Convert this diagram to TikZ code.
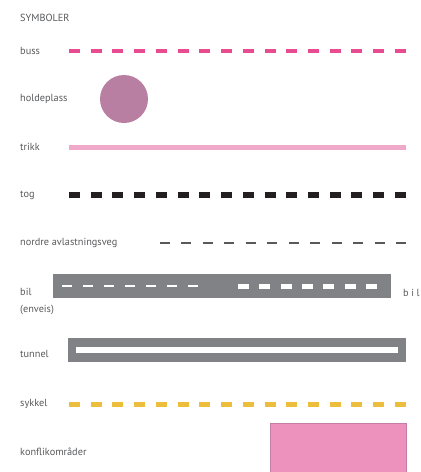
\documentclass[tikz,border=0pt]{standalone}
\usepackage{fontspec}
\setmainfont{PT Sans}
\usetikzlibrary{positioning}
\definecolor{txtgrey}{HTML}{58595B}
\definecolor{busspink}{HTML}{E84B90}
\definecolor{stopmauve}{HTML}{B97FA3}
\definecolor{trampink}{HTML}{F0A9C9}
\definecolor{trainblack}{HTML}{231F20}
\definecolor{roadgrey}{HTML}{808285}
\definecolor{bikeyellow}{HTML}{EDBE3C}
\definecolor{conflictpink}{HTML}{EC92BD}
\definecolor{conflictedge}{HTML}{C47DA4}

\begin{document}
\begin{tikzpicture}[
  x=1pt, y=-1pt,
  font=\fontsize{10.3}{12}\selectfont,
  lbl/.style={anchor=west, inner sep=0pt, text=txtgrey},
  bussline/.style={busspink, line width=4.5pt, dash pattern=on 11pt off 10.73pt},
  tramline/.style={trampink, line width=5pt},
  trainline/.style={trainblack, line width=6pt, dash pattern=on 11pt off 10.73pt},
  nordline/.style={txtgrey, line width=1.4pt, dash pattern=on 10pt off 11.45pt},
  carthin/.style={white, line width=1.4pt, dash pattern=on 9.5pt off 11.5pt},
  carthick/.style={white, line width=5pt, dash pattern=on 11pt off 10.3pt},
  bikeline/.style={bikeyellow, line width=5pt, dash pattern=on 11pt off 10.73pt},
]
\useasboundingbox (0,0) rectangle (421,472);

\node[lbl] (title) at (20,18) {SYMBOLER};

\node[lbl] (buss) at (20,51) {buss};
\coordinate (buss-a) at (69,51);
\coordinate (buss-b) at (406,51);
\draw[bussline] (buss-a) -- (buss-b);

\node[lbl] (holdeplass) at (20,99) {holdeplass};
\node[circle, fill=stopmauve, minimum size=48pt, inner sep=0pt] (stop) at (124,99) {};

\node[lbl] (trikk) at (20,147) {trikk};
\coordinate (trikk-a) at (69,147);
\coordinate (trikk-b) at (406,147);
\draw[tramline] (trikk-a) -- (trikk-b);

\node[lbl] (tog) at (20,195) {tog};
\coordinate (tog-a) at (69,195);
\coordinate (tog-b) at (406,195);
\draw[trainline] (tog-a) -- (tog-b);

\node[lbl] (nordre) at (20,243) {nordre avlastningsveg};
\coordinate (nordre-a) at (160,243);
\coordinate (nordre-b) at (406,243);
\draw[nordline] (nordre-a) -- (nordre-b);

\node[lbl] (bil) at (20,292) {bil};
\node[lbl] (enveis) at (20,310) {(enveis)};
\fill[roadgrey] (53,274) rectangle (390.5,297.5);
\coordinate (bil-a) at (62,286);
\coordinate (bil-b) at (197.5,286);
\coordinate (bil-c) at (238,286);
\coordinate (bil-d) at (377,286);
\draw[carthin] (bil-a) -- (bil-b);
\draw[carthick] (bil-c) -- (bil-d);
\node[lbl] (bilright) at (403,293) {b\hspace{2.6pt}i\hspace{2.6pt}l};

\node[lbl] (tunnel) at (20,354) {tunnel};
\fill[roadgrey] (68,337.5) rectangle (406,361.5);
\fill[white] (76,347) rectangle (398,352.7);

\node[lbl] (sykkel) at (20,404) {sykkel};
\coordinate (sykkel-a) at (69,404);
\coordinate (sykkel-b) at (406,404);
\draw[bikeline] (sykkel-a) -- (sykkel-b);

\node[lbl] (konflikt) at (20,452) {konflikområder};
\filldraw[fill=conflictpink, draw=conflictedge, line width=0.8pt] (270,423) rectangle (406,480);
\end{tikzpicture}
\end{document}
